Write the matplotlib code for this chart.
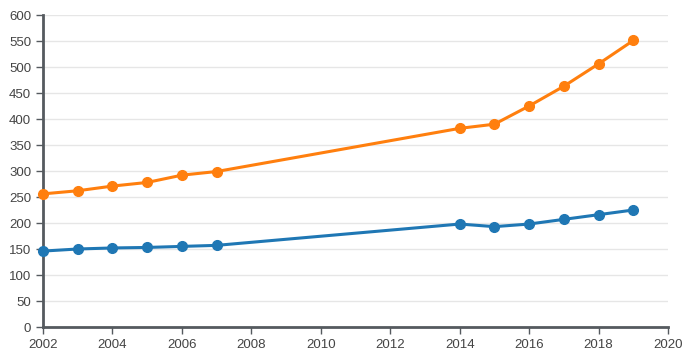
import matplotlib
matplotlib.use("Agg")
import matplotlib.pyplot as plt

years = [2002, 2003, 2004, 2005, 2006, 2007, 2014, 2015, 2016, 2017, 2018, 2019]
orange_vals = [256, 262, 271, 278, 292, 299, 382, 390, 425, 463, 506, 551]
blue_vals = [146, 150, 152, 153, 155, 157, 198, 193, 198, 207, 216, 225]
x_ticks = list(range(2002, 2021, 2))
y_ticks = list(range(0, 601, 50))

plt.rcParams['font.family'] = ['Liberation Sans', 'DejaVu Sans']

fig = plt.figure(figsize=(6.91, 3.61), dpi=100)
ax = fig.add_axes([43/691, 34/361, 625/691, 312/361])

axis_col = '#555a5f'
ax.plot(years, blue_vals, color='#1f77b4', lw=2.2, marker='o', ms=7, clip_on=False, zorder=3)
ax.plot(years, orange_vals, color='#ff7f0e', lw=2.2, marker='o', ms=7, clip_on=False, zorder=3)

ax.set_xlim(2002, 2020)
ax.set_ylim(0, 600)
ax.set_xticks(x_ticks)
ax.set_yticks(y_ticks)
ax.grid(axis='y', color='#e6e6e6', lw=1)
ax.set_axisbelow(True)

for s in ['top', 'right']:
    ax.spines[s].set_visible(False)
for s in ['left', 'bottom']:
    ax.spines[s].set_color(axis_col)
    ax.spines[s].set_linewidth(2)
ax.tick_params(colors=axis_col, labelcolor='#444444', labelsize=9.5, length=5, width=1)

fig.savefig('out.png', dpi=100)
